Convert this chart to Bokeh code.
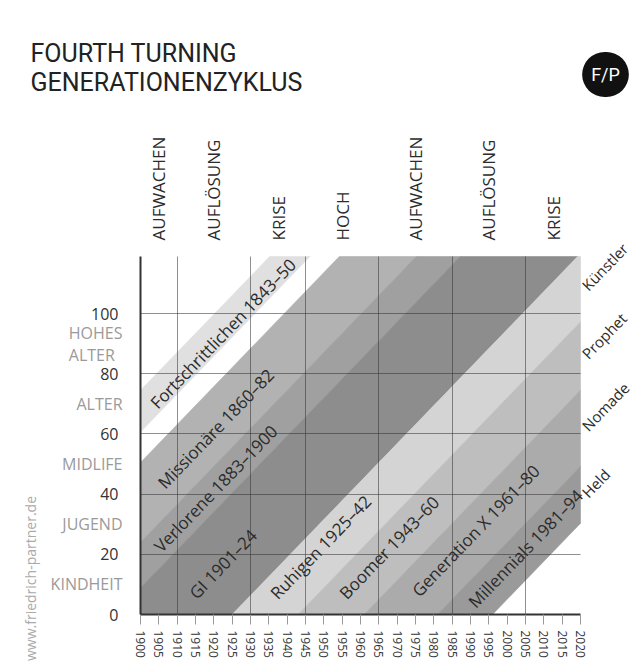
import math
from bokeh.plotting import figure
from bokeh.models import Range1d, FixedTicker, ColumnDataSource, LabelSet, Label
from bokeh.core.properties import value
from bokeh.embed import file_html
from bokeh.resources import INLINE

# ---------------- data ----------------
age_ticks = [0, 20, 40, 60, 80, 100]
life_stages = ["KINDHEIT", "JUGEND", "MIDLIFE", "ALTER", "HOHES\nALTER"]
life_stage_ages = [10, 30, 50, 70, 90]

year_ticks = list(range(1900, 2021, 5))
turning_bounds = [1900, 1910, 1930, 1945, 1965, 1985, 2005, 2020]
turning_names = ["AUFWACHEN", "AUFLÖSUNG", "KRISE", "HOCH",
                 "AUFWACHEN", "AUFLÖSUNG", "KRISE"]

gen_labels = ["Fortschrittlichen 1843–50", "Missionäre 1860–82", "Verlorene  1883–1900",
              "GI 1901–24", "Ruhigen 1925–42", "Boomer 1943–60",
              "Generation X 1961–80", "Millennials 1981–94"]
gen_from = [1841, 1860, 1881, 1893, 1925, 1943, 1961, 1981]   # band edge year at age 0
gen_to = [1852, 1881, 1893, 1925, 1943, 1961, 1981, 1996]
gen_label_year = [1922.5, 1920.5, 1920.9, 1922.5, 1949.1, 1967.8, 1991.4, 2005.0]
gen_label_age = [93.4, 61.8, 42.4, 16.8, 22.4, 22.3, 27.9, 21.9]
gen_colors = ["#e0e0e0", "#b2b2b2", "#a0a0a0", "#8d8d8d",
              "#d4d4d4", "#bebebe", "#ababab", "#9a9a9a"]

archetypes = ["Künstler", "Prophet", "Nomade", "Held"]
archetype_gen = [4, 5, 6, 7]

AGE_PER_YEAR = 1.263
X0, X1 = 1900, 2020
Y0, Y1 = 0, 119

# ---------------- layout (pixels) ----------------
W, H = 634, 664
CH_L, CH_T, CH_W, CH_H = 140, 256, 440, 358      # chart area inside the canvas
SX = CH_W / (X1 - X0)
SY = CH_H / (Y1 - Y0)

FONT = "Open Sans"
DARK = "#2b2b2b"

p = figure(width=W, height=H, output_backend="svg", toolbar_location=None,
           x_range=Range1d(X0 - CH_L / SX, X0 + (W - CH_L) / SX),
           y_range=Range1d(Y0 - (H - CH_T - CH_H) / SY, Y1 + CH_T / SY),
           min_border=0, min_border_left=0, min_border_right=0,
           min_border_top=0, min_border_bottom=0,
           background_fill_color="white", border_fill_color="white")
p.outline_line_color = None


# ---------------- bands (clipped to the chart rectangle) ----------------
def clip_poly(pts, xmin, xmax, ymin, ymax):
    def clip(pts, inside, cut):
        out = []
        for i in range(len(pts)):
            cur, prev = pts[i], pts[i - 1]
            if inside(cur):
                if not inside(prev):
                    out.append(cut(prev, cur))
                out.append(cur)
            elif inside(prev):
                out.append(cut(prev, cur))
        return out

    def cx(a, b, x):
        t = (x - a[0]) / (b[0] - a[0])
        return (x, a[1] + t * (b[1] - a[1]))

    def cy(a, b, y):
        t = (y - a[1]) / (b[1] - a[1])
        return (a[0] + t * (b[0] - a[0]), y)

    pts = clip(pts, lambda a: a[0] >= xmin, lambda a, b: cx(a, b, xmin))
    pts = clip(pts, lambda a: a[0] <= xmax, lambda a, b: cx(a, b, xmax))
    pts = clip(pts, lambda a: a[1] >= ymin, lambda a, b: cy(a, b, ymin))
    pts = clip(pts, lambda a: a[1] <= ymax, lambda a, b: cy(a, b, ymax))
    return pts


xs, ys = [], []
for f, t in zip(gen_from, gen_to):
    dx = Y1 / AGE_PER_YEAR
    poly = clip_poly([(f, Y0), (t, Y0), (t + dx, Y1), (f + dx, Y1)], X0, X1, Y0, Y1)
    xs.append([q[0] for q in poly])
    ys.append([q[1] for q in poly])
p.patches(xs, ys, fill_color=gen_colors, line_color=gen_colors, line_width=0.6)

# ---------------- grid ----------------
p.xgrid.ticker = FixedTicker(ticks=turning_bounds[1:-1])
p.ygrid.ticker = FixedTicker(ticks=age_ticks[1:])
p.xgrid.bounds = (X0, X1)
p.xgrid.cross_bounds = (Y0, Y1)
p.ygrid.bounds = (Y0, Y1)
p.ygrid.cross_bounds = (X0, X1)
for g in (p.xgrid, p.ygrid):
    g.grid_line_color = "#333333"
    g.grid_line_alpha = 0.55
    g.grid_line_width = 1
    g.level = "guide"

# ---------------- axes ----------------
xa = p.xaxis[0]
xa.fixed_location = Y0
xa.bounds = (X0, X1)
xa.ticker = FixedTicker(ticks=year_ticks)
xa.axis_line_color = "#333333"
xa.axis_line_width = 2
xa.major_tick_out = 10
xa.major_tick_in = 0
xa.major_tick_line_color = "#9a9a9a"
xa.minor_tick_line_color = None
xa.major_label_orientation = "vertical"
xa.major_label_text_font = FONT
xa.major_label_text_font_size = "12px"
xa.major_label_text_color = "#333333"
xa.major_label_standoff = 6

ya = p.yaxis[0]
ya.fixed_location = X0
ya.bounds = (Y0, Y1)
ya.ticker = FixedTicker(ticks=age_ticks)
ya.axis_line_color = "#333333"
ya.axis_line_width = 2
ya.major_tick_line_color = None
ya.minor_tick_line_color = None
ya.major_label_text_font = FONT
ya.major_label_text_font_size = "16px"
ya.major_label_text_color = "#333333"
ya.major_label_standoff = 16

# ---------------- text ----------------
ang = math.atan(AGE_PER_YEAR * SY / SX)

gsrc = ColumnDataSource(dict(x=gen_label_year, y=gen_label_age, text=gen_labels))
p.add_layout(LabelSet(x="x", y="y", text="text", source=gsrc, angle=ang,
                      text_align="center", text_baseline="middle",
                      text_font=value(FONT), text_font_size="17px", text_color=DARK))

gen_mid = [(f + t) / 2 for f, t in zip(gen_from, gen_to)]
asrc = ColumnDataSource(dict(
    x=[X1] * len(archetypes),
    y=[AGE_PER_YEAR * (X1 - gen_mid[i]) for i in archetype_gen],
    text=archetypes))
p.add_layout(LabelSet(x="x", y="y", text="text", source=asrc, angle=ang, x_offset=4,
                      text_align="left", text_baseline="middle",
                      text_font=value(FONT), text_font_size="15px", text_color=DARK))

tsrc = ColumnDataSource(dict(
    x=[(a + b) / 2 for a, b in zip(turning_bounds[:-1], turning_bounds[1:])],
    y=[Y1] * len(turning_names),
    text=turning_names))
p.add_layout(LabelSet(x="x", y="y", text="text", source=tsrc, angle=math.pi / 2, y_offset=16,
                      text_align="left", text_baseline="middle",
                      text_font=value(FONT), text_font_size="17px", text_color=DARK))

ssrc = ColumnDataSource(dict(x=[X0] * len(life_stages), y=life_stage_ages, text=life_stages))
p.add_layout(LabelSet(x="x", y="y", text="text", source=ssrc, x_offset=-18,
                      text_align="right", text_baseline="middle", text_line_height=1.0,
                      text_font=value(FONT), text_font_size="16px", text_color="#9a9a9a"))

# title, logo, url (positioned relative to the chart's lower-left corner)
p.add_layout(Label(x=X0, y=Y0, x_offset=-110, y_offset=561, text="FOURTH TURNING",
                   text_align="left", text_baseline="alphabetic",
                   text_font="Roboto", text_font_size="25px", text_color="#222222"))
p.add_layout(Label(x=X0, y=Y0, x_offset=-110, y_offset=532, text="GENERATIONENZYKLUS",
                   text_align="left", text_baseline="alphabetic",
                   text_font="Roboto", text_font_size="25px", text_color="#222222"))
p.add_layout(Label(x=X0, y=Y0, x_offset=465, y_offset=540, text="F/P",
                   text_align="center", text_baseline="middle",
                   text_font="Roboto", text_font_size="18px", text_color="white",
                   background_fill_color="#111111", border_radius=23,
                   padding=dict(left=9, right=9, top=12, bottom=12)))
p.add_layout(Label(x=X0, y=Y0, x_offset=-110, y_offset=36, text="www.friedrich-partner.de",
                   angle=math.pi / 2, text_align="center", text_baseline="middle",
                   text_font=FONT, text_font_size="14px", text_color="#aaaaaa"))

open("out.html", "w").write(file_html(p, INLINE))
